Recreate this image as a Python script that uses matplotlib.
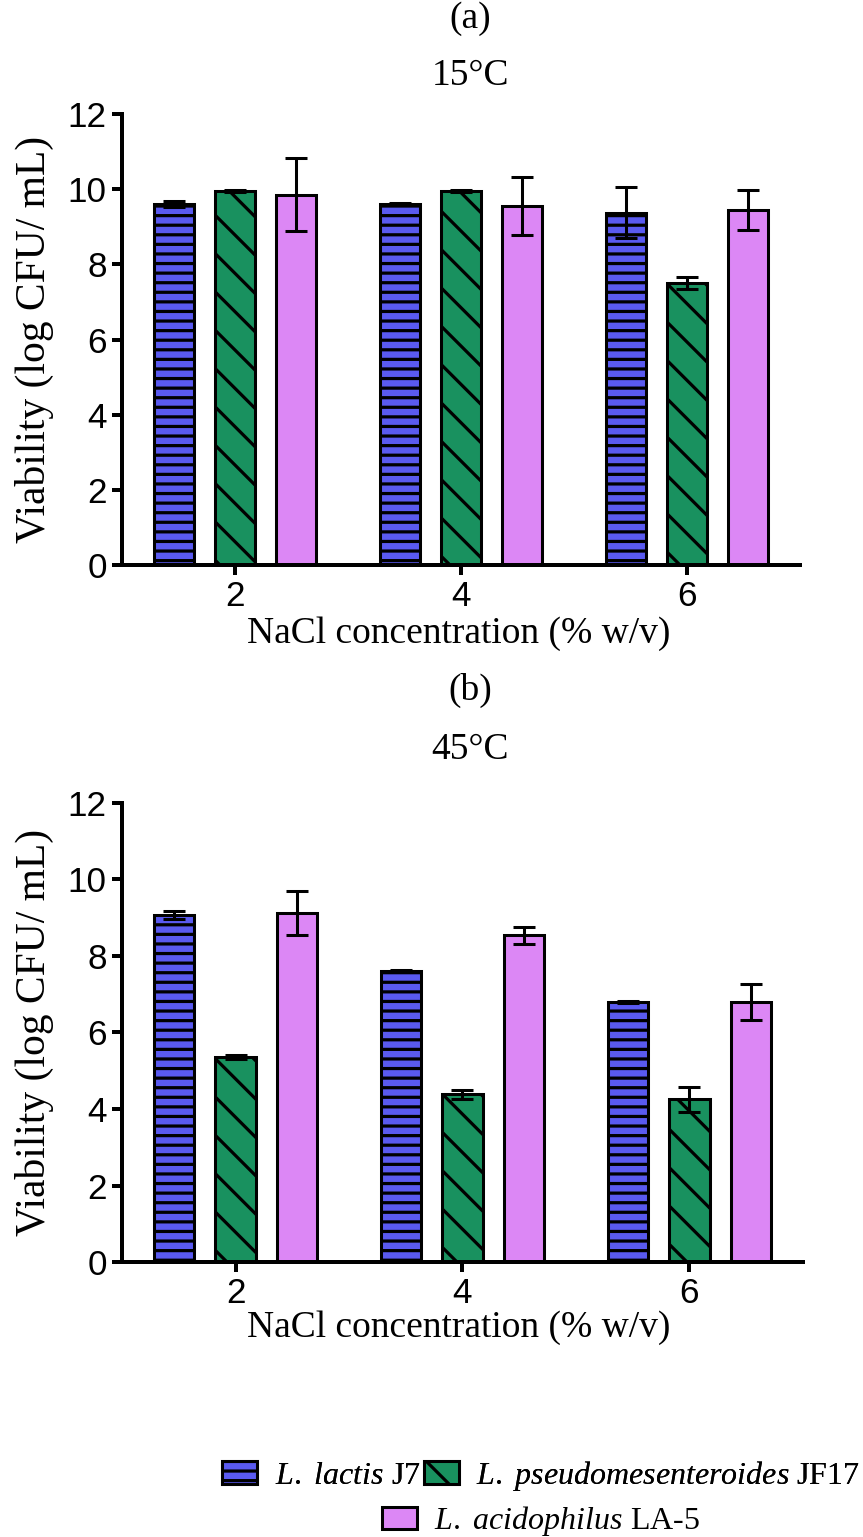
import numpy as np
import matplotlib.pyplot as plt
from matplotlib.patches import Patch

plt.rcParams['mathtext.fontset'] = 'custom'
plt.rcParams['mathtext.rm'] = 'Liberation Serif'
plt.rcParams['mathtext.it'] = 'Liberation Serif:italic'
plt.rcParams['hatch.linewidth'] = 2.0

nacl = ['2', '4', '6']
strains = [r'$\it{L.}$ $\it{lactis}$ J7',
           r'$\it{L.}$ $\it{pseudomesenteroides}$ JF17',
           r'$\it{L.}$ $\it{acidophilus}$ LA-5']

# (a) 15 C
lactis_15 = [9.60, 9.60, 9.38]
lactis_15_err = [0.08, 0.02, 0.67]
pseudo_15 = [9.95, 9.95, 7.50]
pseudo_15_err = [0.03, 0.02, 0.16]
acido_15 = [9.85, 9.55, 9.45]
acido_15_err = [0.97, 0.77, 0.53]

# (b) 45 C
lactis_45 = [9.07, 7.62, 6.80]
lactis_45_err = [0.10, 0.02, 0.02]
pseudo_45 = [5.35, 4.38, 4.25]
pseudo_45_err = [0.05, 0.12, 0.33]
acido_45 = [9.13, 8.54, 6.80]
acido_45_err = [0.58, 0.22, 0.47]

colors = ['#5a5af0', '#19915f', '#dc87f5']
hatches = ['--', '\\', '']
serif = 'Liberation Serif'
sans = 'Liberation Sans'

dpi = 115
fig = plt.figure(figsize=(863 / dpi, 1537 / dpi), dpi=dpi)


def panel(rect, vals, errs):
    ax = fig.add_axes(rect)
    x = np.arange(len(nacl))
    w = 0.177
    off = 0.272
    for i in range(3):
        ax.bar(x + (i - 1) * off, vals[i], w, color=colors[i], hatch=hatches[i],
               edgecolor='black', linewidth=1.9, zorder=2)
        ax.errorbar(x + (i - 1) * off, vals[i], yerr=errs[i], fmt='none',
                    ecolor='black', elinewidth=1.9, capsize=6.9, capthick=1.9, zorder=3)
    ax.set_xlim(-0.5, 2.5)
    ax.set_ylim(0, 12)
    ax.set_yticks(np.arange(0, 13, 2))
    ax.set_xticks(x)
    ax.set_xticklabels(nacl)
    for s in ['top', 'right']:
        ax.spines[s].set_visible(False)
    for s in ['left', 'bottom']:
        ax.spines[s].set_linewidth(2.5)
    ax.tick_params(length=6.5, width=2.5, labelsize=22, pad=3)
    for lab in ax.get_xticklabels() + ax.get_yticklabels():
        lab.set_family(sans)
    return ax


ax1 = panel([0.1414, 0.6324, 0.7856, 0.2934],
            [lactis_15, pseudo_15, acido_15],
            [lactis_15_err, pseudo_15_err, acido_15_err])
ax2 = panel([0.1414, 0.1789, 0.7890, 0.2987],
            [lactis_45, pseudo_45, acido_45],
            [lactis_45_err, pseudo_45_err, acido_45_err])

fs = 23.5
fsy = 26
fig.text(0.545, 0.988, '(a)', ha='center', va='center', family=serif, size=fs)
fig.text(0.545, 0.951, '15°C', ha='center', va='center', family=serif, size=fs)
fig.text(0.532, 0.588, 'NaCl concentration (% w/v)', ha='center', va='center', family=serif, size=fs)
fig.text(0.040, 0.779, 'Viability (log CFU/ mL)', ha='center', va='center', rotation=90, family=serif, size=fsy)

fig.text(0.545, 0.551, '(b)', ha='center', va='center', family=serif, size=fs)
fig.text(0.545, 0.512, '45°C', ha='center', va='center', family=serif, size=fs)
fig.text(0.532, 0.1365, 'NaCl concentration (% w/v)', ha='center', va='center', family=serif, size=fs)
fig.text(0.040, 0.3286, 'Viability (log CFU/ mL)', ha='center', va='center', rotation=90, family=serif, size=fsy)

handles = [Patch(facecolor=colors[i], hatch=hatches[i], edgecolor='black', linewidth=1.9)
           for i in range(3)]
lfs = 20
leg1 = fig.legend(handles[:2], strains[:2], loc='center', bbox_to_anchor=(0.627, 0.040),
                  ncol=2, frameon=False, prop={'family': serif, 'size': lfs},
                  handlelength=1.1, handleheight=0.7, columnspacing=0.1, handletextpad=0.55,
                  borderpad=0.1)
fig.add_artist(leg1)
fig.legend(handles[2:], strains[2:], loc='center', bbox_to_anchor=(0.627, 0.0105),
           frameon=False, prop={'family': serif, 'size': lfs},
           handlelength=1.1, handleheight=0.7, handletextpad=0.55, borderpad=0.1)

fig.savefig('out.png', dpi=dpi)
